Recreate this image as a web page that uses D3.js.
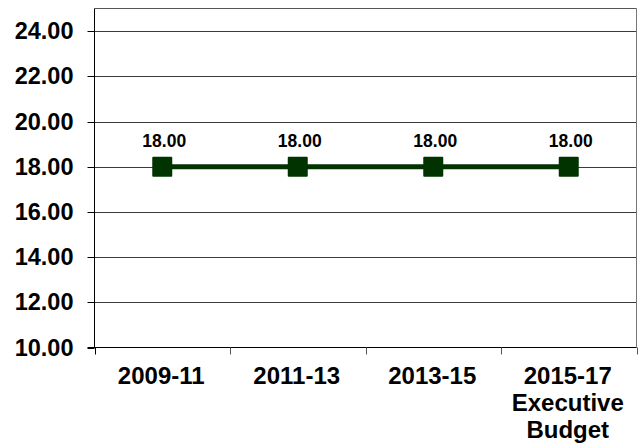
<!DOCTYPE html>
<html>
<head>
<meta charset="utf-8">
<script src="https://cdn.jsdelivr.net/npm/d3@7"></script>
<style>
  html, body { margin: 0; padding: 0; background: #fff; }
  svg { display: block; }
  text { font-family: "Liberation Sans", Arial, sans-serif; font-weight: bold; fill: #000; }
</style>
</head>
<body>
<svg id="chart" width="639" height="444"></svg>
<script>
const categories = [["2009-11"], ["2011-13"], ["2013-15"], ["2015-17", "Executive", "Budget"]];
const values = [18.00, 18.00, 18.00, 18.00];
const yTicks = [10, 12, 14, 16, 18, 20, 22, 24];
const yDomain = [10, 25];

(function () {
const svg = d3.select("#chart");
const pL = 94.5, pR = 636.5, pT = 8.5, pB = 347.5;

const x = d3.scaleBand().domain(categories.map((c, i) => i)).range([pL, pR]).padding(0);
const y = d3.scaleLinear().domain(yDomain).range([pB, pT]);

// gridlines
svg.append("g").selectAll("line").data(yTicks.filter(t => t !== yDomain[0]))
  .join("line")
  .attr("x1", pL).attr("x2", pR)
  .attr("y1", d => Math.round(y(d)) + 0.5).attr("y2", d => Math.round(y(d)) + 0.5)
  .attr("stroke", "#3a3a3a").attr("stroke-width", 1);

// frame top/right
svg.append("line").attr("x1", pL).attr("x2", pR).attr("y1", pT).attr("y2", pT)
  .attr("stroke", "#555").attr("stroke-width", 1);
svg.append("line").attr("x1", pR).attr("x2", pR).attr("y1", pT).attr("y2", pB)
  .attr("stroke", "#777").attr("stroke-width", 1);

// y axis
const yAxis = d3.axisLeft(y).tickValues(yTicks).tickSize(7).tickPadding(14)
  .tickFormat(d3.format(".2f"));
const gy = svg.append("g").attr("transform", `translate(${pL},0)`).call(yAxis);
gy.select(".domain").attr("stroke", "#000").attr("d", `M0,${pT}V${pB}`);
gy.selectAll(".tick line").attr("stroke", "#000");
gy.selectAll(".tick").attr("transform", d => `translate(0,${Math.round(y(d)) + 0.5})`);
gy.selectAll(".tick text").style("font-size", "23.5px").style("font-weight", "bold")
  .style("font-family", '"Liberation Sans", Arial, sans-serif').attr("fill", "#000");

// x axis
const xAxis = d3.axisBottom(x).tickSize(0).tickFormat("");
const gx = svg.append("g").attr("transform", `translate(0,${pB})`).call(xAxis);
gx.select(".domain").attr("stroke", "#000").attr("d", `M${pL - 7},0H${pR}`);
// boundary ticks
const bounds = categories.map((c, i) => x(i)).concat([pR]);
gx.append("g").selectAll("line").data(bounds).join("line")
  .attr("x1", d => Math.round(d) + 0.5).attr("x2", d => Math.round(d) + 0.5)
  .attr("y1", 0).attr("y2", 7).attr("stroke", (d, i) => i === 0 ? "#000" : "#555");

// category labels
const lbl = svg.append("g").selectAll("text").data(categories).join("text")
  .attr("text-anchor", "middle")
  .style("font-size", "24px")
  .attr("x", (d, i) => x(i) + x.bandwidth() / 2 - 1)
  .attr("y", 384);
lbl.selectAll("tspan").data(d => d).join("tspan")
  .attr("x", function() { return d3.select(this.parentNode).attr("x"); })
  .attr("dy", (d, i) => i === 0 ? 0 : 27)
  .text(d => d);

// line
const cx = i => x(i) + x.bandwidth() / 2;
const line = d3.line().x((d, i) => cx(i)).y(d => y(d));
svg.append("path").datum(values).attr("d", line)
  .attr("fill", "none").attr("stroke", "#003300").attr("stroke-width", 5);

// markers
svg.append("g").selectAll("rect").data(values).join("rect")
  .attr("x", (d, i) => cx(i) - 10).attr("y", d => y(d) - 10)
  .attr("width", 20).attr("height", 20)
  .attr("fill", "#003300").attr("rx", 1);

// data labels
svg.append("g").selectAll("text").data(values).join("text")
  .attr("text-anchor", "middle")
  .style("font-size", "17.5px")
  .attr("x", (d, i) => cx(i) + 2)
  .attr("y", d => y(d) - 20)
  .text(d => d3.format(".2f")(d));
})();
</script>
</body>
</html>
